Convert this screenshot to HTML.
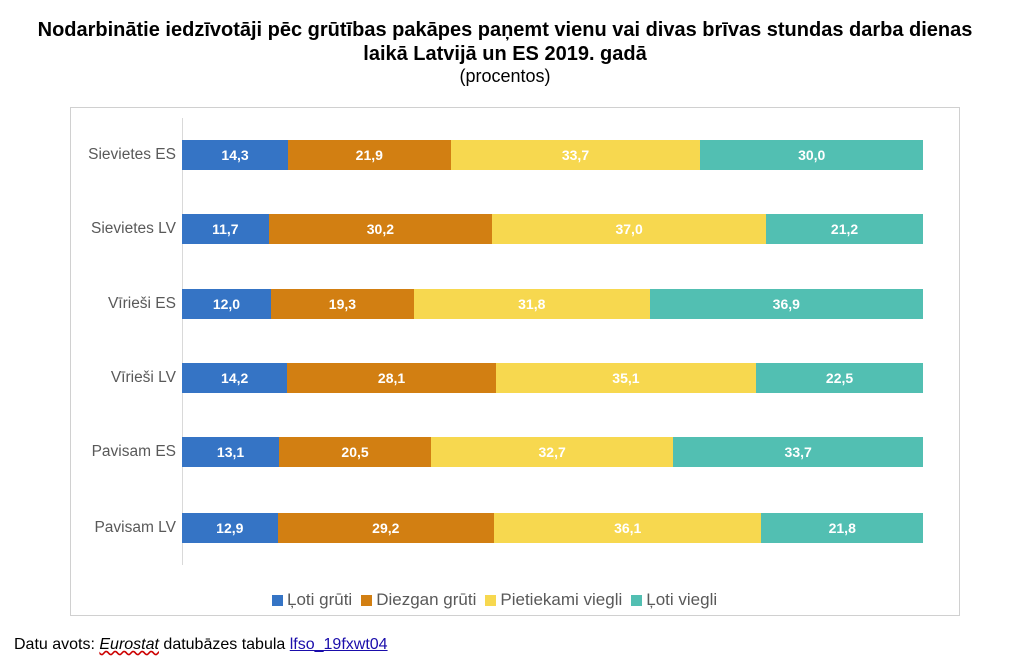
<!DOCTYPE html>
<html><head><meta charset="utf-8"><style>
body{margin:0;width:1024px;height:666px;background:#fff;font-family:"Liberation Sans",sans-serif;position:relative;overflow:hidden}
.t{position:absolute;left:0;width:1010px;text-align:center;color:#000;white-space:nowrap}
.box{position:absolute;left:70px;top:107px;width:890px;height:509px;border:1px solid #d0d0d0;box-sizing:border-box}
.ax{position:absolute;left:182px;top:118px;width:1px;height:447px;background:#d9d9d9}
.row{position:absolute;left:182px;height:30px;display:flex;width:741px}
.row div{height:100%;color:#fff;font-weight:bold;font-size:14px;display:flex;align-items:center;justify-content:center}
.lab{position:absolute;width:176px;left:0;text-align:right;font-size:15.5px;color:#595959;line-height:30px}
.b{background:#3574c5}.o{background:#d27f12}.y{background:#f7d84f}.g{background:#52bfb2}
.lg{position:absolute;top:590px;left:272px;font-size:17px;color:#595959;display:flex;gap:9px;align-items:center}
.lg span{display:inline-block;width:11px;height:11px;margin-right:4px;vertical-align:middle}
</style></head><body>
<div class="t" style="top:19px;font-size:20px;font-weight:bold">Nodarbinātie iedzīvotāji pēc grūtības pakāpes paņemt vienu vai divas brīvas stundas darba dienas</div>
<div class="t" style="top:43px;font-size:20px;font-weight:bold">laikā Latvijā un ES 2019. gadā</div>
<div class="t" style="top:66px;font-size:18px">(procentos)</div>
<div class="box"></div>
<div class="ax"></div>
<div class="lab" style="top:140px">Sievietes ES</div>
<div class="row" style="top:140px"><div class="b" style="flex:14.3">14,3</div><div class="o" style="flex:21.9">21,9</div><div class="y" style="flex:33.7">33,7</div><div class="g" style="flex:30">30,0</div></div>
<div class="lab" style="top:214px">Sievietes LV</div>
<div class="row" style="top:214px"><div class="b" style="flex:11.7">11,7</div><div class="o" style="flex:30.2">30,2</div><div class="y" style="flex:37">37,0</div><div class="g" style="flex:21.2">21,2</div></div>
<div class="lab" style="top:289px">Vīrieši ES</div>
<div class="row" style="top:289px"><div class="b" style="flex:12">12,0</div><div class="o" style="flex:19.3">19,3</div><div class="y" style="flex:31.8">31,8</div><div class="g" style="flex:36.9">36,9</div></div>
<div class="lab" style="top:363px">Vīrieši LV</div>
<div class="row" style="top:363px"><div class="b" style="flex:14.2">14,2</div><div class="o" style="flex:28.1">28,1</div><div class="y" style="flex:35.1">35,1</div><div class="g" style="flex:22.5">22,5</div></div>
<div class="lab" style="top:437px">Pavisam ES</div>
<div class="row" style="top:437px"><div class="b" style="flex:13.1">13,1</div><div class="o" style="flex:20.5">20,5</div><div class="y" style="flex:32.7">32,7</div><div class="g" style="flex:33.7">33,7</div></div>
<div class="lab" style="top:513px">Pavisam LV</div>
<div class="row" style="top:513px"><div class="b" style="flex:12.9">12,9</div><div class="o" style="flex:29.2">29,2</div><div class="y" style="flex:36.1">36,1</div><div class="g" style="flex:21.8">21,8</div></div>
<div class="lg"><div><span class="b"></span>Ļoti grūti</div><div><span class="o"></span>Diezgan grūti</div><div><span class="y"></span>Pietiekami viegli</div><div><span class="g"></span>Ļoti viegli</div></div>
<div style="position:absolute;left:14px;top:636px;font-size:16px;color:#000">Datu avots: <i style="text-decoration:underline wavy #c00">Eurostat</i> datubāzes tabula <span style="color:#1a0dab;text-decoration:underline">lfso_19fxwt04</span></div>
</body></html>
